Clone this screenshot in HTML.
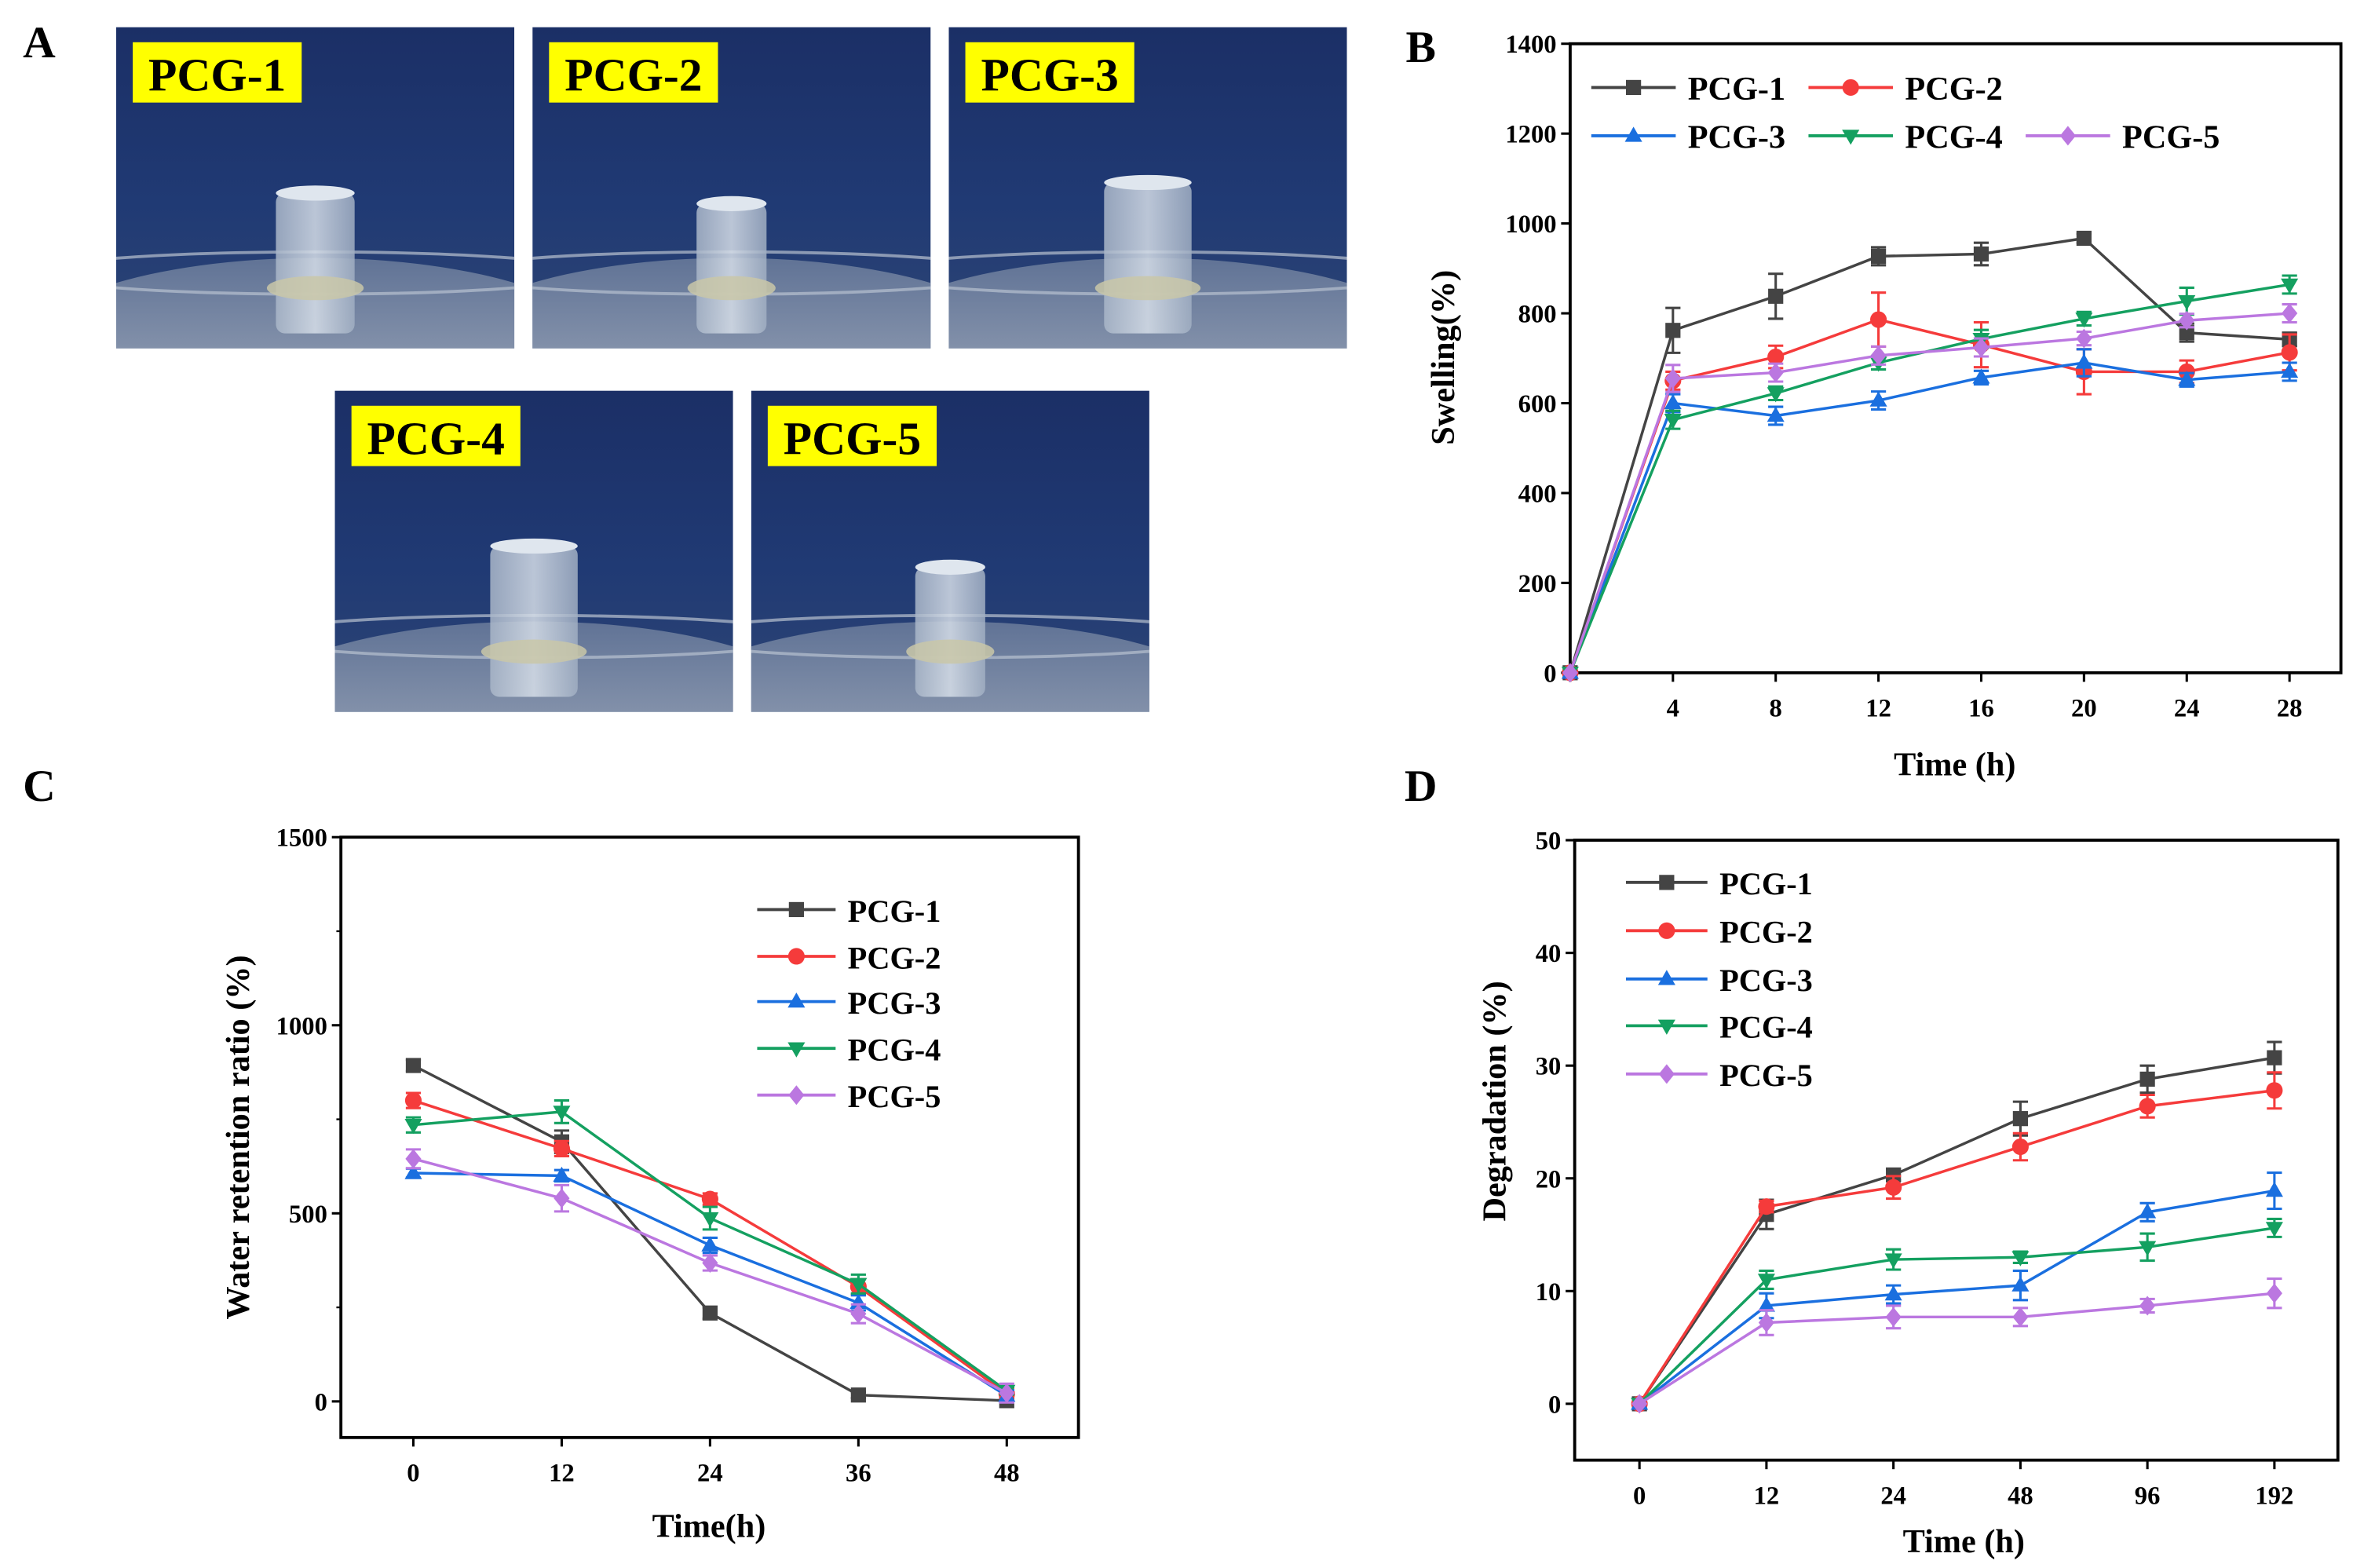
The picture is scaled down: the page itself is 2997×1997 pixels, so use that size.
<!DOCTYPE html>
<html><head><meta charset="utf-8"><style>
html,body{margin:0;padding:0;background:#fff;}
svg{display:block;font-family:"Liberation Serif",serif;font-weight:bold;}
</style></head><body>
<svg id="fig" width="2997" height="1997" viewBox="0 0 1560 1039.5" xmlns="http://www.w3.org/2000/svg">
<defs>
<linearGradient id="bgG" x1="0" y1="0" x2="0" y2="1"><stop offset="0" stop-color="#1b2f66"/><stop offset="0.55" stop-color="#203a74"/><stop offset="1" stop-color="#2e4574"/></linearGradient>
<linearGradient id="dishG" x1="0" y1="0" x2="0" y2="1"><stop offset="0" stop-color="#6f809e"/><stop offset="1" stop-color="#c6ccd4"/></linearGradient>
<linearGradient id="cylG" x1="0" y1="0" x2="1" y2="0"><stop offset="0" stop-color="#a9b6c8"/><stop offset="0.5" stop-color="#d6dee8"/><stop offset="1" stop-color="#a0aec2"/></linearGradient>
</defs>
<g id="panelA"></g>
<g id="panelB"></g>
<g id="panelC"></g>
<g id="panelD"></g>
</svg>
<script>
const seriesNames = ["PCG-1","PCG-2","PCG-3","PCG-4","PCG-5"];
const seriesColors = ["#444444","#f53b3b","#1a6fdf","#14a060","#bb77e0"];
const seriesMarkers = ["square","circle","up","down","diamond"];

// Panel B
const bX = [0,4,8,12,16,20,24,28];
const bXTicks = [4,8,12,16,20,24,28];
const bYTicks = [0,200,400,600,800,1000,1200,1400];
const bPCG1 = [0,762,838,927,932,967,757,742];
const bPCG2 = [0,650,703,786,730,670,670,713];
const bPCG3 = [0,600,572,606,657,690,652,670];
const bPCG4 = [0,563,622,690,743,788,827,864];
const bPCG5 = [0,655,668,706,724,744,784,800];
const bErr1 = [0,50,50,20,25,10,20,15];
const bErr2 = [0,20,25,60,50,50,25,40];
const bErr3 = [0,20,20,20,15,30,15,20];
const bErr4 = [0,20,15,15,20,15,30,20];
const bErr5 = [0,30,20,20,20,15,15,20];

// Panel C
const cX = [0,12,24,36,48];
const cYTicks = [0,500,1000,1500];
const cPCG1 = [893,690,235,17,2];
const cPCG2 = [800,672,538,305,20];
const cPCG3 = [607,600,415,262,15];
const cPCG4 = [735,770,487,312,28];
const cPCG5 = [645,540,368,233,22];
const cErr1 = [15,30,15,8,5];
const cErr2 = [20,20,15,20,15];
const cErr3 = [12,15,20,20,15];
const cErr4 = [20,30,30,25,10];
const cErr5 = [25,35,20,25,25];

// Panel D
const dCats = ["0","12","24","48","96","192"];
const dYTicks = [0,10,20,30,40,50];
const dPCG1 = [0,16.8,20.3,25.3,28.8,30.7];
const dPCG2 = [0,17.5,19.2,22.8,26.4,27.8];
const dPCG3 = [0,8.7,9.7,10.5,17.0,18.9];
const dPCG4 = [0,11.0,12.8,13.0,13.9,15.6];
const dPCG5 = [0,7.2,7.7,7.7,8.7,9.8];
const dErr1 = [0,1.3,0.5,1.5,1.2,1.4];
const dErr2 = [0,0.5,1.0,1.2,1.0,1.6];
const dErr3 = [0,1.1,0.8,1.3,0.8,1.6];
const dErr4 = [0,0.8,0.9,0.5,1.2,0.8];
const dErr5 = [0,1.1,1.0,0.8,0.6,1.3];

const NS = "http://www.w3.org/2000/svg";
function mk(tag, attrs, parent){
  const e = document.createElementNS(NS, tag);
  for (const k in attrs) e.setAttribute(k, attrs[k]);
  parent.appendChild(e);
  return e;
}
function txt(parent, x, y, s, size, anchor, name){
  const t = mk("text", {x:x, y:y, "font-size":size, "text-anchor":anchor||"middle", fill:"#000"}, parent);
  t.textContent = s;
  
  
  return t;
}
function marker(parent, type, x, y, r, color){
  let e;
  if (type === "square") e = mk("rect", {x:x-r, y:y-r, width:2*r, height:2*r, fill:color}, parent);
  else if (type === "circle") e = mk("circle", {cx:x, cy:y, r:r*1.1, fill:color}, parent);
  else if (type === "up") e = mk("polygon", {points:`${x},${y-r*1.2} ${x-r*1.15},${y+r*0.8} ${x+r*1.15},${y+r*0.8}`, fill:color}, parent);
  else if (type === "down") e = mk("polygon", {points:`${x},${y+r*1.2} ${x-r*1.15},${y-r*0.8} ${x+r*1.15},${y-r*0.8}`, fill:color}, parent);
  else e = mk("polygon", {points:`${x},${y-r*1.3} ${x+r*1.05},${y} ${x},${y+r*1.3} ${x-r*1.05},${y}`, fill:color}, parent);
  return e;
}

function drawChart(g, cfg){
  const {L,T,R,B} = cfg.box;
  const xs = v => L + (v - cfg.xMin) / (cfg.xMax - cfg.xMin) * (R - L);
  const ys = v => B - (v - cfg.yMin) / (cfg.yMax - cfg.yMin) * (B - T);
  const frame = mk("rect", {x:L, y:T, width:R-L, height:B-T, fill:"none", stroke:"#000", "stroke-width":2}, g);
  
  
  cfg.yTicks.forEach(v => {
    const y = ys(v);
    const tk = mk("line", {x1:L-6, x2:L, y1:y, y2:y, stroke:"#000", "stroke-width":1.6}, g);
    
    
    txt(g, L-9, y+6, String(v), 17, "end", "y-tick-label");
  });
  if (cfg.yMinor) cfg.yMinor.forEach(v => {
    const y = ys(v);
    const tk = mk("line", {x1:L-3, x2:L, y1:y, y2:y, stroke:"#000", "stroke-width":1.2}, g);
    
    
  });
  cfg.xTicks.forEach((v, i) => {
    const x = xs(v);
    const tk = mk("line", {x1:x, x2:x, y1:B, y2:B+6, stroke:"#000", "stroke-width":1.6}, g);
    
    
    txt(g, x, B+29, cfg.xLabels ? cfg.xLabels[i] : String(v), 17, "middle", "x-tick-label");
  });
  if (cfg.xStartTick) {
    const tk = mk("line", {x1:xs(cfg.xMin), x2:xs(cfg.xMin), y1:B, y2:B+6, stroke:"#000", "stroke-width":1.6}, g);
    
    
  }
  txt(g, cfg.xTitle[1], cfg.xTitle[2], cfg.xTitle[0], 22, "middle", "x-axis-title");
  const yt = txt(g, 0, 0, cfg.yTitle[0], 22, "middle", "y-axis-title");
  yt.setAttribute("transform", `translate(${cfg.yTitle[1]},${cfg.yTitle[2]}) rotate(-90)`);
  cfg.series.forEach((vals, si) => {
    const sg = mk("g", {}, g);
    
    
    const col = seriesColors[si];
    const pts = vals.map((v, i) => `${xs(cfg.xVals[i])},${ys(v)}`).join(" ");
    const pl = mk("polyline", {points:pts, fill:"none", stroke:col, "stroke-width":1.8}, sg);
    
    
    vals.forEach((v, i) => {
      const x = xs(cfg.xVals[i]), e = cfg.errs[si][i];
      if (e > 0) {
        const eb = mk("path", {d:`M${x},${ys(v-e)}V${ys(v+e)}M${x-5},${ys(v-e)}H${x+5}M${x-5},${ys(v+e)}H${x+5}`, stroke:col, "stroke-width":1.6, fill:"none"}, sg);
        
        
      }
      const m = marker(sg, seriesMarkers[si], x, ys(v), 5, col);
      
      
    });
  });
  const lg = mk("g", {}, g);
  
  
  cfg.legend.forEach((p, si) => {
    const [lx, ly] = p;
    const eg = mk("g", {}, lg);
    
    
    mk("line", {x1:lx, x2:lx+cfg.legLen, y1:ly, y2:ly, stroke:seriesColors[si], "stroke-width":2}, eg);
    marker(eg, seriesMarkers[si], lx+cfg.legLen/2, ly, 5, seriesColors[si]);
    txt(eg, lx+cfg.legLen+8, ly+8, seriesNames[si], cfg.legSize, "start", "legend-label");
  });
}

// Panel A photos
(function(){
  const g = document.getElementById("panelA");
  const defs = document.querySelector("defs");
  txt(g, 26, 38, "A", 30, "middle", "panel-label-a");
  const photos = [[77,18,"PCG-1",0.9],[353,18,"PCG-2",0.8],[629,18,"PCG-3",1.0],[222,259,"PCG-4",1.0],[498,259,"PCG-5",0.8]];
  photos.forEach((p, k) => {
    const [x,y,label,sc] = p;
    const w = 264, h = 213;
    const cp = mk("clipPath", {id:"clip"+k}, defs);
    mk("rect", {x:x, y:y, width:w, height:h}, cp);
    const pg = mk("g", {"clip-path":`url(#clip${k})`}, g);
    
    
    mk("rect", {x:x, y:y, width:w, height:h, fill:"url(#bgG)"}, pg);
    mk("ellipse", {cx:x+w/2, cy:y+h+5, rx:w*0.75, ry:65, fill:"url(#dishG)", opacity:0.8}, pg);
    mk("ellipse", {cx:x+w/2, cy:y+h-50, rx:w*0.7, ry:14, fill:"none", stroke:"#b8c2d0", "stroke-width":2, opacity:0.7}, pg);
    const cw = 58*sc, ch = 70*sc, cx = x+w/2, cb = y+h-40;
    mk("rect", {x:cx-cw/2, y:cb-ch, width:cw, height:ch+30, rx:6, fill:"url(#cylG)", opacity:0.85}, pg);
    mk("ellipse", {cx:cx, cy:cb-ch, rx:cw/2, ry:5, fill:"#dfe6ee"}, pg);
    mk("ellipse", {cx:cx, cy:cb, rx:cw/2+6, ry:8, fill:"#c9c7a8", opacity:0.85}, pg);
    const lb = mk("rect", {x:x+11, y:y+10, width:112, height:40, fill:"#ffff00"}, pg);
    
    
    txt(pg, x+67, y+42, label, 31, "middle", "photo-label");
  });
})();

(function(){
  const g = document.getElementById("panelB");
  txt(g, 942, 41, "B", 30, "middle", "panel-label-b");
  drawChart(g, {
    box:{L:1041,T:29,R:1552,B:446}, xMin:0, xMax:30, yMin:0, yMax:1400,
    xTicks:bXTicks, yTicks:bYTicks, xVals:bX, xStartTick:true,
    series:[bPCG1,bPCG2,bPCG3,bPCG4,bPCG5], errs:[bErr1,bErr2,bErr3,bErr4,bErr5],
    xTitle:["Time (h)",1296,514], yTitle:["Swelling(%)",964,237],
    legend:[[1055,58],[1199,58],[1055,90],[1199,90],[1343,90]], legLen:56, legSize:22
  });
})();

(function(){
  const g = document.getElementById("panelC");
  txt(g, 26, 531, "C", 30, "middle", "panel-label-c");
  drawChart(g, {
    box:{L:226,T:555,R:715,B:953}, xMin:-5.86, xMax:53.8, yMin:-96, yMax:1500,
    xTicks:cX, yTicks:cYTicks, yMinor:[250,750,1250], xVals:cX,
    series:[cPCG1,cPCG2,cPCG3,cPCG4,cPCG5], errs:[cErr1,cErr2,cErr3,cErr4,cErr5],
    xTitle:["Time(h)",470,1019], yTitle:["Water retention ratio (%)",165,754],
    legend:[[502,603],[502,634],[502,664],[502,695],[502,726]], legLen:52, legSize:21
  });
})();

(function(){
  const g = document.getElementById("panelD");
  txt(g, 942, 531, "D", 30, "middle", "panel-label-d");
  const idx = dCats.map((c, i) => i);
  drawChart(g, {
    box:{L:1044,T:557,R:1550,B:968}, xMin:-0.51, xMax:5.5, yMin:-5, yMax:50,
    xTicks:idx, xLabels:dCats, yTicks:dYTicks, xVals:idx,
    series:[dPCG1,dPCG2,dPCG3,dPCG4,dPCG5], errs:[dErr1,dErr2,dErr3,dErr4,dErr5],
    xTitle:["Time (h)",1302,1029], yTitle:["Degradation (%)",998,730],
    legend:[[1078,585],[1078,617],[1078,649],[1078,680],[1078,712]], legLen:54, legSize:21
  });
})();
</script>
</body></html>
